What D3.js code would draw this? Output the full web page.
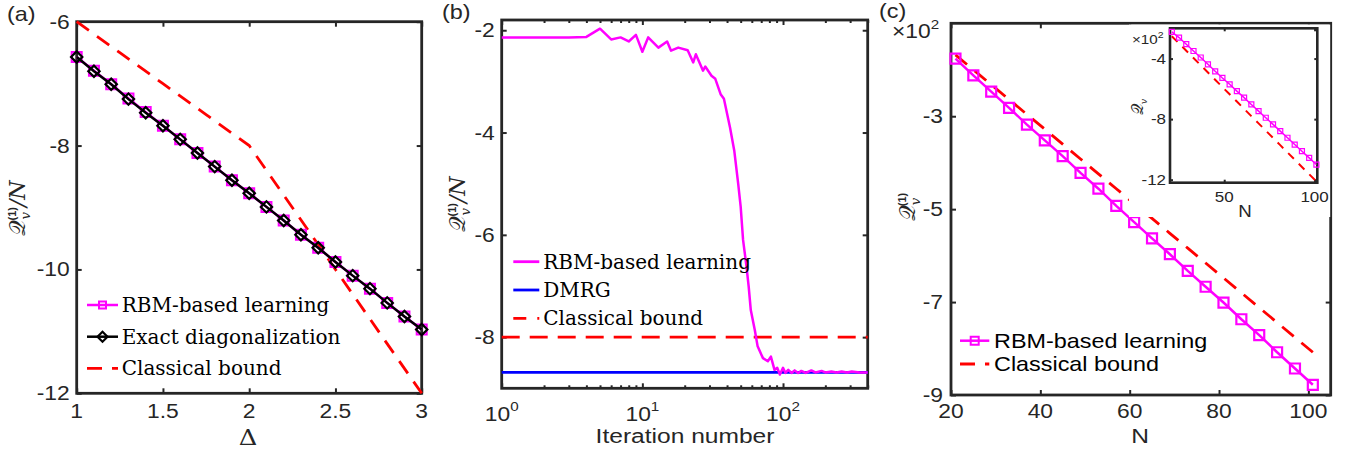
<!DOCTYPE html>
<html>
<head>
<meta charset="utf-8">
<script src="https://cdn.jsdelivr.net/npm/d3@7"></script>
<style>
  body { margin: 0; background: #fff; }
  svg { display: block; }
</style>
</head>
<body>
<div id="fig"></div>
<script>

// ---- panel (a): energy per site vs anisotropy
var deltaA = [1, 1.1, 1.2, 1.3, 1.4, 1.5, 1.6, 1.7, 1.8, 1.9, 2, 2.1, 2.2, 2.3, 2.4, 2.5, 2.6, 2.7, 2.8, 2.9, 3];
var rbmA = [-6.57, -6.79, -7.01, -7.24, -7.46, -7.68, -7.9, -8.12, -8.34, -8.56, -8.77, -8.99, -9.21, -9.44, -9.65, -9.88, -10.1, -10.31, -10.54, -10.76, -10.97];
var exactA = [-6.57, -6.8, -7.01, -7.25, -7.47, -7.68, -7.9, -8.12, -8.34, -8.56, -8.77, -8.99, -9.21, -9.44, -9.65, -9.88, -10.1, -10.31, -10.54, -10.76, -10.97];
var boundDeltaA = [1, 1.25, 1.5, 1.75, 2, 2.25, 2.5, 2.75, 3];
var boundA = [-6, -6.5, -7, -7.5, -8, -9, -10, -11, -12];
var xTicksA = [1, 1.5, 2, 2.5, 3];
var yTicksA = [-6, -8, -10, -12];

// ---- panel (b): learning curve
var iterB = [1, 2, 3, 4, 5, 6, 7, 8, 9, 10, 11, 13, 15, 16, 18, 21, 23, 24, 27, 28, 31, 33, 36, 38, 42, 45, 48, 50, 52, 55, 57, 59, 63, 66, 72, 78, 82, 87, 91, 95, 100, 104, 109, 115, 121, 128, 135, 145, 159, 170, 188, 200, 221, 240, 261, 285, 308, 350, 400];
var rbmB = [-2.14, -2.14, -2.14, -2.13, -1.97, -2.18, -2.14, -2.22, -2.09, -2.42, -2.14, -2.34, -2.22, -2.4, -2.34, -2.39, -2.63, -2.47, -2.79, -2.71, -2.89, -2.95, -3.25, -3.34, -3.9, -4.35, -5.0, -5.45, -6.1, -6.62, -7.01, -7.47, -7.86, -8.18, -8.41, -8.47, -8.38, -8.64, -8.6, -8.73, -8.6, -8.7, -8.64, -8.7, -8.65, -8.7, -8.66, -8.7, -8.65, -8.69, -8.66, -8.69, -8.67, -8.69, -8.67, -8.69, -8.67, -8.69, -8.69];
var dmrgB = -8.69;
var boundB = -8;
var xMajorB = [1, 10, 100];
var xMinorB = [2, 3, 4, 5, 6, 7, 8, 9, 20, 30, 40, 50, 60, 70, 80, 90, 200, 300, 400];
var yTicksB = [-2, -4, -6, -8];

// ---- panel (c): scaling with system size
var nC = [21, 25, 29, 33, 37, 41, 45, 49, 53, 57, 61, 65, 69, 73, 77, 81, 85, 89, 93, 97, 101];
var rbmC = [-176, -212, -247, -282, -318, -352, -386, -422, -456, -493, -528, -563, -597, -633, -667, -701, -737, -771, -808, -843, -878];
var boundC = [-168, -200, -232, -264, -296, -328, -360, -392, -424, -456, -488, -520, -552, -584, -616, -648, -680, -712, -744, -776, -808];
var xTicksC = [20, 40, 60, 80, 100];
var yTicksC = [-300, -500, -700, -900];

// inset of (c)
var rbmInset = [-224, -261, -305, -350, -393, -438, -484, -528, -570, -615, -658, -703, -747, -791, -835, -879, -923, -968, -1012, -1056, -1100];
var boundInset = [-252, -300, -348, -396, -444, -492, -540, -588, -636, -684, -732, -780, -828, -876, -924, -972, -1020, -1068, -1116, -1164, -1212];
var xTicksInset = [50, 100];
var yTicksInset = [-400, -800, -1200];

var W = 1361, H = 454;
var SX = 1.17;   // the figure is a little stretched sideways
var SANS = "'Liberation Sans', Arial, sans-serif";
var SERIF = "'DejaVu Serif', serif";
var INK = "#262626";
var MAG = "#ff00ff", RED = "#ff0000", BLUE = "#0000ff";
var TICKFS = 19.5;

var svg = d3.select("#fig").append("svg").attr("width", W).attr("height", H);

function panel(x0, y0, x1, y1) {
  var g = svg.append("g").attr("transform", "translate(" + x0 + "," + y0 + ")");
  return { g: g, w: x1 - x0, h: y1 - y0 };
}

// text, squeezed sideways like the original
function txt(g, x, y, s, size, anchor, family) {
  return g.append("text")
    .attr("transform", "translate(" + x + "," + y + ") scale(" + SX + ",1)")
    .attr("text-anchor", anchor || "middle")
    .attr("font-family", family || SANS)
    .attr("font-size", size)
    .attr("fill", INK)
    .text(s);
}

function frame(p, sw) {
  p.g.append("rect").attr("width", p.w).attr("height", p.h)
    .attr("fill", "none").attr("stroke", INK).attr("stroke-width", sw);
}

function tickMarks(p, x, y, xv, yv, len, sw) {
  var gs = [
    p.g.append("g").attr("transform", "translate(0," + p.h + ")").call(d3.axisBottom(x).tickValues(xv).tickSize(-len).tickFormat("")),
    p.g.append("g").call(d3.axisTop(x).tickValues(xv).tickSize(-len).tickFormat("")),
    p.g.append("g").call(d3.axisLeft(y).tickValues(yv).tickSize(-len).tickFormat("")),
    p.g.append("g").attr("transform", "translate(" + p.w + ",0)").call(d3.axisRight(y).tickValues(yv).tickSize(-len).tickFormat(""))
  ];
  gs.forEach(function(a) {
    a.select(".domain").remove();
    a.selectAll("line").attr("stroke", INK).attr("stroke-width", sw);
  });
}

// calligraphic Q label, rotated
function qLabel(g, x, y, fs, withOne, withN) {
  var t = g.append("text")
    .attr("transform", "translate(" + x + "," + y + ") rotate(-90)")
    .attr("text-anchor", "middle")
    .attr("font-family", SERIF)
    .attr("font-size", fs)
    .attr("fill", INK);
  t.append("tspan").text("\u{1D4AC}");
  t.append("tspan").attr("font-size", fs * 0.6).attr("font-style", "italic").attr("dy", fs * 0.22).text("v");
  if (withOne) {
    t.append("tspan").attr("font-size", fs * 0.5).attr("font-weight", "bold").attr("font-family", SANS)
      .attr("dx", -fs * 0.38).attr("dy", -fs * 0.62).text("(1)");
  }
  if (withN) {
    t.append("tspan").attr("font-style", "italic").attr("dy", fs * 0.4).text("/N");
  }
}

function line(g, xs, ys, x, y) {
  return g.append("path")
    .datum(xs.map(function(d, i) { return [d, ys[i]]; }))
    .attr("fill", "none")
    .attr("d", d3.line().x(function(d) { return x(d[0]); }).y(function(d) { return y(d[1]); }));
}

// =========================== (a) ===========================
(function() {
  var p = panel(76.7, 21.7, 421.7, 393.3);
  var x = d3.scaleLinear().domain([1, 3]).range([0, p.w]);
  var y = d3.scaleLinear().domain([-12, -6]).range([p.h, 0]);

  frame(p, 2.8);
  tickMarks(p, x, y, xTicksA, yTicksA, 5, 2);

  xTicksA.forEach(function(v) { txt(p.g, x(v), p.h + 24.5, String(v), TICKFS); });
  yTicksA.forEach(function(v) { txt(p.g, -7, y(v) + 7, String(v), TICKFS, "end"); });

  line(p.g, boundDeltaA, boundA, x, y).attr("stroke", RED).attr("stroke-width", 2.8).attr("stroke-dasharray", "15,10");
  line(p.g, deltaA, rbmA, x, y).attr("stroke", MAG).attr("stroke-width", 2.5);
  p.g.selectAll(".sqA").data(deltaA).enter().append("path")
    .attr("transform", function(d, i) { return "translate(" + x(d) + "," + y(rbmA[i]) + ")"; })
    .attr("d", d3.symbol(d3.symbolSquare, 100))
    .attr("fill", "none").attr("stroke", MAG).attr("stroke-width", 2);
  line(p.g, deltaA, exactA, x, y).attr("stroke", "#000").attr("stroke-width", 2.5);
  p.g.selectAll(".dmA").data(deltaA).enter().append("path")
    .attr("transform", function(d, i) { return "translate(" + x(d) + "," + y(exactA[i]) + ") rotate(45)"; })
    .attr("d", d3.symbol(d3.symbolSquare, 64))
    .attr("fill", "none").attr("stroke", "#000").attr("stroke-width", 2.2);

  // legend
  var lg = svg.append("g").attr("font-family", SERIF).attr("font-size", 20);
  var rows = [305, 336.7, 368.3];
  var labels = ["RBM-based learning", "Exact diagonalization", "Classical bound"];
  lg.append("line").attr("x1", 87).attr("x2", 118).attr("y1", rows[0]).attr("y2", rows[0]).attr("stroke", MAG).attr("stroke-width", 2.5);
  lg.append("path").attr("transform", "translate(102.5," + rows[0] + ")").attr("d", d3.symbol(d3.symbolSquare, 49))
    .attr("fill", "none").attr("stroke", MAG).attr("stroke-width", 2);
  lg.append("line").attr("x1", 87).attr("x2", 118).attr("y1", rows[1]).attr("y2", rows[1]).attr("stroke", "#000").attr("stroke-width", 2.5);
  lg.append("path").attr("transform", "translate(102.5," + rows[1] + ") rotate(45)").attr("d", d3.symbol(d3.symbolSquare, 50))
    .attr("fill", "none").attr("stroke", "#000").attr("stroke-width", 2.2);
  lg.append("line").attr("x1", 87).attr("x2", 118).attr("y1", rows[2]).attr("y2", rows[2]).attr("stroke", RED).attr("stroke-width", 2.8).attr("stroke-dasharray", "15,10");
  labels.forEach(function(s, i) {
    lg.append("text").attr("x", 121.7).attr("y", rows[i] + 6.8).attr("fill", "#000").text(s);
  });

  txt(svg, 248, 445, "\u0394", 22, "middle", SERIF);
  qLabel(svg, 25, 208, 22, true, true);
  txt(svg, 7, 21, "(a)", 20, "start");
})();

// =========================== (b) ===========================
(function() {
  var p = panel(501.7, 20, 867.7, 388.3);
  var x = d3.scaleLog().domain([1, 400]).range([0, p.w]);
  var y = d3.scaleLinear().domain([-9, -1.8]).range([p.h, 0]);

  frame(p, 2.8);
  tickMarks(p, x, y, xMajorB, yTicksB, 5, 2);
  tickMarks(p, x, y, xMinorB, [], 3, 2);

  xMajorB.forEach(function(v) {
    var t = txt(p.g, x(v), p.h + 33, "10", TICKFS);
    t.append("tspan").attr("font-size", 13).attr("dy", -10).text(String(Math.round(Math.log10(v))));
  });
  yTicksB.forEach(function(v) { txt(p.g, -7, y(v) + 7, String(v), TICKFS, "end"); });

  p.g.append("line").attr("x1", 0).attr("x2", p.w).attr("y1", y(boundB)).attr("y2", y(boundB))
    .attr("stroke", RED).attr("stroke-width", 2.8).attr("stroke-dasharray", "18,10");
  p.g.append("line").attr("x1", 0).attr("x2", p.w).attr("y1", y(dmrgB)).attr("y2", y(dmrgB))
    .attr("stroke", BLUE).attr("stroke-width", 2.8);
  line(p.g, iterB, rbmB, x, y).attr("stroke", MAG).attr("stroke-width", 2.5).attr("stroke-linejoin", "round");

  var lg = svg.append("g").attr("font-family", SERIF).attr("font-size", 20);
  var rows = [261.7, 290, 318.3];
  var cols = [MAG, BLUE, RED];
  var labels = ["RBM-based learning", "DMRG", "Classical bound"];
  labels.forEach(function(s, i) {
    var l = lg.append("line").attr("x1", 513.3).attr("x2", 539.3).attr("y1", rows[i]).attr("y2", rows[i])
      .attr("stroke", cols[i]).attr("stroke-width", 2.8);
    if (i === 2) l.attr("stroke-dasharray", "13,11");
    lg.append("text").attr("x", 543.3).attr("y", rows[i] + 6.8).attr("fill", "#000").text(s);
  });

  txt(svg, 685, 443, "Iteration number", 21);
  qLabel(svg, 465, 204, 22, true, true);
  txt(svg, 442, 19, "(b)", 20, "start");
})();

// =========================== (c) ===========================
(function() {
  var p = panel(951, 23.3, 1330.7, 395);
  var x = d3.scaleLinear().domain([20, 105]).range([0, p.w]);
  var y = d3.scaleLinear().domain([-900, -100]).range([p.h, 0]);

  frame(p, 2.8);
  tickMarks(p, x, y, xTicksC, yTicksC, 5, 2);

  xTicksC.forEach(function(v) { txt(p.g, x(v), p.h + 23, String(v), TICKFS); });
  yTicksC.forEach(function(v) { txt(p.g, -8, y(v) + 7, String(v / 100), TICKFS, "end"); });
  var e = txt(svg, 892, 38, "\u00d710", TICKFS, "start");
  e.append("tspan").attr("font-size", 13).attr("dy", -9).text("2");

  line(p.g, nC, boundC, x, y).attr("stroke", RED).attr("stroke-width", 2.8).attr("stroke-dasharray", "15,10");
  line(p.g, nC, rbmC, x, y).attr("stroke", MAG).attr("stroke-width", 2.5);
  p.g.selectAll(".sqC").data(nC).enter().append("path")
    .attr("transform", function(d, i) { return "translate(" + x(d) + "," + y(rbmC[i]) + ")"; })
    .attr("d", d3.symbol(d3.symbolSquare, 100))
    .attr("fill", "none").attr("stroke", MAG).attr("stroke-width", 2.2);

  var lg = svg.append("g");
  var rows = [340.7, 364];
  lg.append("line").attr("x1", 960).attr("x2", 989.3).attr("y1", rows[0]).attr("y2", rows[0]).attr("stroke", MAG).attr("stroke-width", 2.5);
  lg.append("path").attr("transform", "translate(974.7," + rows[0] + ")").attr("d", d3.symbol(d3.symbolSquare, 64))
    .attr("fill", "none").attr("stroke", MAG).attr("stroke-width", 2);
  lg.append("line").attr("x1", 960).attr("x2", 989.3).attr("y1", rows[1]).attr("y2", rows[1]).attr("stroke", RED).attr("stroke-width", 2.8).attr("stroke-dasharray", "15,10");
  txt(lg, 994, rows[0] + 7, "RBM-based learning", 20, "start").attr("fill", "#000");
  txt(lg, 994, rows[1] + 7, "Classical bound", 20, "start").attr("fill", "#000");

  txt(svg, 1140, 443, "N", 21);
  qLabel(svg, 915, 207, 22, true, false);
  txt(svg, 879, 18, "(c)", 20, "start");

  // inset, on its own white patch
  svg.append("rect").attr("x", 1129).attr("y", 24.5).attr("width", 201.2).attr("height", 192.5).attr("fill", "#fff");
  var q = panel(1170, 28.3, 1317.3, 182.7);
  var xi = d3.scaleLinear().domain([20, 101.5]).range([0, q.w]);
  var yi = d3.scaleLinear().domain([-1220, -200]).range([q.h, 0]);
  q.g.append("rect").attr("width", q.w).attr("height", q.h).attr("fill", "#fff");
  frame(q, 2.6);
  tickMarks(q, xi, yi, xTicksInset, yTicksInset, 3, 2);
  xTicksInset.forEach(function(v) { txt(q.g, xi(v), q.h + 19.5, String(v), 14.5); });
  yTicksInset.forEach(function(v) { txt(q.g, -4, yi(v) + 5, String(v / 100), 14.5, "end"); });
  var ei = txt(svg, 1132, 44, "\u00d710", 13, "start");
  ei.append("tspan").attr("font-size", 9).attr("dy", -6).text("2");

  line(q.g, nC, boundInset, xi, yi).attr("stroke", RED).attr("stroke-width", 2).attr("stroke-dasharray", "8,7");
  line(q.g, nC, rbmInset, xi, yi).attr("stroke", MAG).attr("stroke-width", 1.5);
  q.g.selectAll(".sqI").data(nC).enter().append("path")
    .attr("transform", function(d, i) { return "translate(" + xi(d) + "," + yi(rbmInset[i]) + ")"; })
    .attr("d", d3.symbol(d3.symbolSquare, 25))
    .attr("fill", "none").attr("stroke", MAG).attr("stroke-width", 1.2);

  txt(svg, 1245, 217, "N", 16);
  qLabel(svg, 1143, 107, 16, false, false);
})();

</script>
</body>
</html>
